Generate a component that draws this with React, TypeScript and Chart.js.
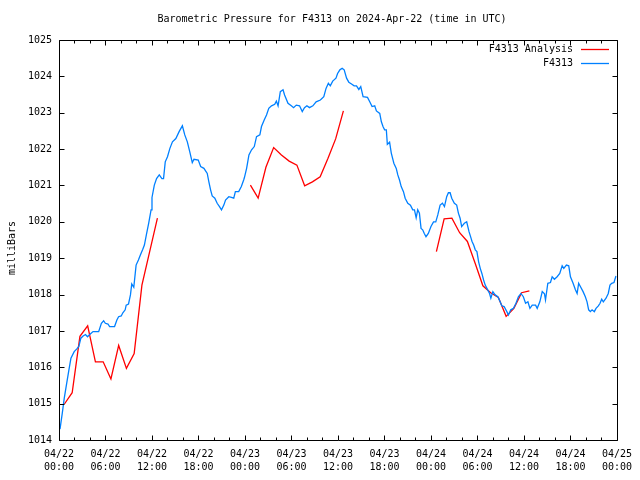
import React, { useEffect, useRef } from "react";
import { Chart, registerables } from "chart.js";

Chart.register(...registerables);

const chartTitle = "Barometric Pressure for F4313 on 2024-Apr-22 (time in UTC)";
const yAxisTitle = "milliBars";
const seriesNames = ["F4313 Analysis", "F4313"];

// x tick labels, every 6 hours from 04/22 00:00 to 04/25 00:00
const xTickDates = ["04/22", "04/22", "04/22", "04/22", "04/23", "04/23", "04/23", "04/23", "04/24", "04/24", "04/24", "04/24", "04/25"];
const xTickTimes = ["00:00", "06:00", "12:00", "18:00", "00:00", "06:00", "12:00", "18:00", "00:00", "06:00", "12:00", "18:00", "00:00"];

// F4313 observations: hours since 04/22 00:00 UTC, pressure in mbar
const stationHours = [
  0.13, 0.42, 0.68, 0.99, 1.28, 1.54, 1.96, 2.27, 2.56, 2.82, 3.11, 3.42, 3.68, 3.97, 4.39, 5.12, 5.47, 5.76, 5.98, 6.32,
  6.53, 7.17, 7.47, 7.69, 8.03, 8.24, 8.54, 8.67, 8.97, 9.22, 9.39, 9.65, 9.95, 10.25, 10.5, 10.8, 11.02, 11.31, 11.57, 11.88,
  12.0, 12.3, 12.59, 12.94, 13.28, 13.49, 13.71, 14.0, 14.31, 14.64, 15.08, 15.5, 15.92, 16.23, 16.56, 16.87, 17.2, 17.42, 17.97, 18.28,
  18.7, 19.13, 19.34, 19.56, 19.77, 20.11, 20.41, 20.71, 20.97, 21.27, 21.49, 21.91, 22.25, 22.55, 22.76, 23.19, 23.53, 23.83, 23.92, 24.21,
  24.51, 24.85, 25.2, 25.49, 25.92, 26.13, 26.48, 26.78, 27.07, 27.42, 27.84, 28.05, 28.27, 28.56, 28.91, 29.11, 29.55, 29.98, 30.27, 30.62,
  31.04, 31.39, 31.68, 31.99, 32.32, 32.76, 33.18, 33.73, 34.17, 34.46, 34.76, 35.01, 35.32, 35.74, 35.95, 36.25, 36.54, 36.8, 37.11, 37.4,
  37.75, 38.08, 38.39, 38.69, 38.94, 39.24, 39.81, 40.1, 40.4, 40.74, 40.96, 41.39, 41.6, 41.81, 42.02, 42.24, 42.37, 42.66, 42.88, 43.21,
  43.52, 43.72, 43.94, 44.16, 44.45, 44.67, 45.01, 45.35, 45.65, 45.87, 46.09, 46.29, 46.51, 46.72, 46.93, 47.14, 47.36, 47.66, 48.0, 48.33,
  48.62, 48.88, 49.18, 49.48, 49.74, 50.03, 50.25, 50.47, 50.68, 51.02, 51.32, 51.54, 51.76, 51.96, 52.31, 52.61, 52.91, 53.17, 53.3, 53.51,
  53.72, 53.93, 54.15, 54.36, 54.57, 54.79, 55.0, 55.22, 55.56, 55.73, 55.99, 56.28, 56.63, 56.93, 57.14, 57.44, 57.79, 58.0, 58.3, 58.64,
  58.97, 59.28, 59.61, 59.92, 60.21, 60.51, 60.77, 61.07, 61.5, 61.71, 62.05, 62.36, 62.65, 62.78, 63.08, 63.42, 63.64, 63.93, 64.28, 64.62,
  64.93, 65.14, 65.48, 65.78, 66.0, 66.34, 66.64, 66.86, 67.06, 67.28, 67.63, 67.92, 68.14, 68.35, 68.57, 68.79, 69.08, 69.3, 69.6, 69.82,
  70.03, 70.24, 70.59, 70.88, 71.1, 71.32, 71.62, 71.87,
];
const stationValues = [
  1014.3, 1014.73, 1015.15, 1015.56, 1015.93, 1016.25, 1016.43, 1016.5, 1016.57, 1016.8, 1016.86, 1016.9, 1016.84, 1016.9, 1016.98, 1016.98, 1017.21, 1017.28, 1017.21, 1017.19,
  1017.12, 1017.12, 1017.3, 1017.39, 1017.41, 1017.5, 1017.58, 1017.71, 1017.74, 1017.99, 1018.29, 1018.2, 1018.81, 1018.95, 1019.09, 1019.24, 1019.36, 1019.68, 1019.96, 1020.33,
  1020.67, 1021.01, 1021.19, 1021.29, 1021.19, 1021.19, 1021.65, 1021.79, 1022.02, 1022.2, 1022.29, 1022.48, 1022.64, 1022.39, 1022.2, 1021.93, 1021.63, 1021.72, 1021.7, 1021.52,
  1021.47, 1021.33, 1021.1, 1020.88, 1020.71, 1020.65, 1020.51, 1020.42, 1020.33, 1020.46, 1020.6, 1020.69, 1020.67, 1020.65, 1020.83, 1020.83, 1020.97, 1021.15, 1021.21, 1021.47,
  1021.84, 1021.98, 1022.07, 1022.34, 1022.39, 1022.62, 1022.8, 1022.94, 1023.12, 1023.19, 1023.23, 1023.32, 1023.19, 1023.58, 1023.63, 1023.49, 1023.26, 1023.19, 1023.14, 1023.21,
  1023.19, 1023.03, 1023.14, 1023.19, 1023.14, 1023.19, 1023.3, 1023.35, 1023.44, 1023.67, 1023.81, 1023.74, 1023.87, 1023.95, 1024.08, 1024.18, 1024.22, 1024.18, 1023.95, 1023.84,
  1023.79, 1023.74, 1023.74, 1023.64, 1023.72, 1023.44, 1023.42, 1023.3, 1023.17, 1023.19, 1023.05, 1022.98, 1022.75, 1022.62, 1022.53, 1022.53, 1022.13, 1022.19, 1021.89, 1021.61,
  1021.47, 1021.29, 1021.15, 1020.97, 1020.83, 1020.65, 1020.51, 1020.46, 1020.33, 1020.33, 1020.11, 1020.33, 1020.24, 1019.82, 1019.78, 1019.68, 1019.59, 1019.68, 1019.87, 1020.0,
  1020.0, 1020.19, 1020.46, 1020.51, 1020.42, 1020.69, 1020.8, 1020.8, 1020.65, 1020.51, 1020.46, 1020.24, 1020.1, 1019.87, 1019.96, 1020.0, 1019.73, 1019.55, 1019.46, 1019.36,
  1019.23, 1019.18, 1018.9, 1018.72, 1018.58, 1018.4, 1018.26, 1018.17, 1018.03, 1017.9, 1018.08, 1017.99, 1017.94, 1017.8, 1017.69, 1017.67, 1017.53, 1017.44, 1017.58, 1017.62,
  1017.76, 1017.94, 1018.03, 1017.94, 1017.76, 1017.8, 1017.62, 1017.71, 1017.71, 1017.62, 1017.8, 1018.08, 1018.02, 1017.85, 1018.31, 1018.33, 1018.49, 1018.42, 1018.49, 1018.58,
  1018.79, 1018.72, 1018.81, 1018.79, 1018.49, 1018.31, 1018.13, 1018.03, 1018.31, 1018.22, 1018.08, 1017.94, 1017.8, 1017.58, 1017.53, 1017.58, 1017.53, 1017.62, 1017.69, 1017.76,
  1017.87, 1017.8, 1017.9, 1018.03, 1018.26, 1018.31, 1018.33, 1018.51,
];

// F4313 Analysis: three hourly runs, start hour of each run
const analysisRunStarts = [0.7, 24.7, 48.7];
const analysisRun1 = [1014.99, 1015.3, 1016.85, 1017.14, 1016.15, 1016.15, 1015.68, 1016.6, 1015.97, 1016.38, 1018.26, 1019.18, 1020.1];
const analysisRun2 = [1021.01, 1020.65, 1021.5, 1022.04, 1021.84, 1021.67, 1021.56, 1020.99, 1021.1, 1021.24, 1021.74, 1022.28, 1023.05];
const analysisRun3 = [1019.18, 1020.08, 1020.1, 1019.7, 1019.46, 1018.86, 1018.24, 1018.05, 1017.92, 1017.4, 1017.62, 1018.05, 1018.1];

const RED = "#ff0000";
const BLUE = "#0080ff";
const FONT = "'DejaVu Sans Mono', 'Liberation Mono', monospace";

export default function App() {
  const canvasRef = useRef<HTMLCanvasElement | null>(null);

  useEffect(() => {
    if (!canvasRef.current) return;

    const stationData = stationHours.map((h, i) => ({ x: h, y: stationValues[i] }));
    const analysisData: { x: number; y: number | null }[] = [];
    [analysisRun1, analysisRun2, analysisRun3].forEach((run, r) => {
      run.forEach((v, k) => analysisData.push({ x: analysisRunStarts[r] + k, y: v }));
      analysisData.push({ x: analysisRunStarts[r] + run.length, y: null });
    });

    const framePlugin = {
      id: "frame",
      afterDraw(chart: any) {
        const { ctx, chartArea } = chart;
        const { left, right, top, bottom } = chartArea;
        const xs = chart.scales.x;
        const ys = chart.scales.y;
        ctx.save();
        ctx.strokeStyle = "#000";
        ctx.lineWidth = 1;
        ctx.beginPath();
        const L = Math.round(left) + 0.5;
        const R = Math.round(right) + 0.5;
        const T = Math.round(top) + 0.5;
        const B = Math.round(bottom) + 0.5;
        ctx.moveTo(L, T);
        ctx.lineTo(R, T);
        ctx.lineTo(R, B);
        ctx.lineTo(L, B);
        ctx.closePath();
        for (let h = 0; h <= 72; h += 2) {
          const px = Math.round(xs.getPixelForValue(h)) + 0.5;
          const len = h % 6 === 0 ? 5 : 3;
          ctx.moveTo(px, B);
          ctx.lineTo(px, B - len);
          ctx.moveTo(px, T);
          ctx.lineTo(px, T + len);
        }
        for (let v = 1014; v <= 1025; v += 1) {
          const py = Math.round(ys.getPixelForValue(v)) + 0.5;
          ctx.moveTo(L, py);
          ctx.lineTo(L + 5, py);
          ctx.moveTo(R, py);
          ctx.lineTo(R - 5, py);
        }
        ctx.stroke();

        // title
        ctx.fillStyle = "#000";
        ctx.font = "10px " + FONT;
        ctx.textAlign = "center";
        ctx.textBaseline = "middle";
        ctx.fillText(chartTitle, 332, 19);

        // y-axis title
        ctx.save();
        ctx.translate(12, 248);
        ctx.rotate(-Math.PI / 2);
        ctx.fillText(yAxisTitle, 0, 0);
        ctx.restore();

        // legend
        const colors = [RED, BLUE];
        seriesNames.forEach((name, i) => {
          const ly = 49 + i * 14;
          ctx.fillStyle = "#000";
          ctx.textAlign = "right";
          ctx.fillText(name, 573, ly);
          ctx.strokeStyle = colors[i];
          ctx.lineWidth = 1.3;
          ctx.beginPath();
          ctx.moveTo(581, ly + 0.5);
          ctx.lineTo(609, ly + 0.5);
          ctx.stroke();
        });
        ctx.restore();
      },
    };

    const chart = new Chart(canvasRef.current, {
      type: "line",
      data: {
        datasets: [
          {
            label: seriesNames[1],
            data: stationData,
            borderColor: BLUE,
            borderWidth: 1.3,
            pointRadius: 0,
            tension: 0,
            fill: false,
          },
          {
            label: seriesNames[0],
            data: analysisData as any,
            borderColor: RED,
            borderWidth: 1.3,
            pointRadius: 0,
            tension: 0,
            fill: false,
            spanGaps: false,
          },
        ],
      },
      options: {
        animation: false,
        responsive: false,
        maintainAspectRatio: false,
        layout: { padding: { left: 0, right: 19, top: 40, bottom: 0 } },
        plugins: {
          legend: { display: false },
          title: { display: false },
          tooltip: { enabled: false },
        },
        scales: {
          x: {
            type: "linear",
            min: 0,
            max: 72,
            border: { display: false },
            grid: { display: false, drawTicks: false },
            ticks: {
              stepSize: 6,
              autoSkip: false,
              maxRotation: 0,
              padding: 8,
              color: "#000",
              font: { family: FONT, size: 10, lineHeight: 1.3 },
              callback: (v: any) => {
                const i = Math.round(Number(v) / 6);
                return [xTickDates[i], xTickTimes[i]];
              },
            },
            afterFit: (scale: any) => {
              scale.height = 40;
            },
          },
          y: {
            min: 1014,
            max: 1025,
            border: { display: false },
            grid: { display: false, drawTicks: false },
            ticks: {
              stepSize: 1,
              padding: 7,
              color: "#000",
              font: { family: FONT, size: 10 },
              callback: (v: any) => String(v),
            },
            afterFit: (scale: any) => {
              scale.width = 59;
            },
          },
        },
      },
      plugins: [framePlugin],
    });

    return () => chart.destroy();
  }, []);

  return (
    <div style={{ position: "absolute", left: 0, top: 0, width: 640, height: 480, background: "#fff" }}>
      <canvas ref={canvasRef} width={640} height={480} />
    </div>
  );
}
